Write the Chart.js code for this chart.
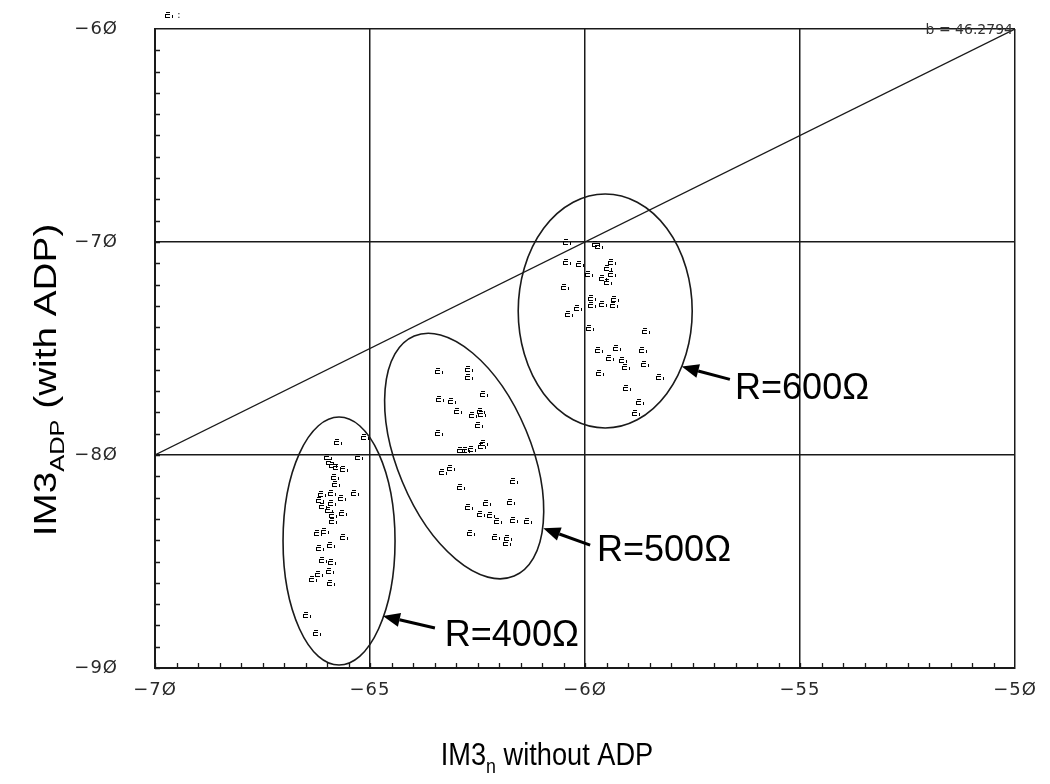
<!DOCTYPE html>
<html>
<head>
<meta charset="utf-8">
<script src="https://cdn.jsdelivr.net/npm/chart.js@4.4.1/dist/chart.umd.min.js"></script>
<style>
  html, body { margin: 0; padding: 0; background: #fff; }
  #wrap { width: 1050px; height: 784px; position: relative; }
</style>
</head>
<body>
<div id="wrap"><canvas id="c" width="1050" height="784"></canvas></div>
<script>
// IM3 without ADP (x) versus IM3 with ADP (y), in dB, per load resistance
const r400X = [-65.74, -65.12, -65.97, -65.25, -65.93, -65.85, -65.77, -65.60, -65.81, -65.79,
               -66.12, -65.89, -65.66, -65.35, -66.16, -66.09, -65.89, -65.95, -65.87, -65.62,
               -65.85, -66.20, -66.05, -65.60, -66.16, -65.91, -66.09, -65.89, -65.93, -66.33,
               -66.18, -65.91, -66.47, -66.24];
const r400Y = [-79.38, -79.14, -80.08, -80.08, -80.31, -80.47, -80.55, -80.67, -81.05, -81.36,
               -81.83, -81.77, -82.03, -81.80, -82.11, -82.39, -82.27, -82.58, -82.82, -82.74,
               -83.08, -83.68, -83.55, -83.86, -84.38, -84.23, -84.93, -85.01, -85.43, -85.84,
               -85.59, -86.00, -87.51, -88.37];

const r500X = [-63.40, -62.70, -62.70, -62.34, -63.37, -63.10, -62.95, -62.60, -62.42, -62.39,
               -62.47, -63.40, -62.88, -62.77, -62.63, -62.40, -62.35, -63.30, -63.12, -62.88,
               -61.64, -62.70, -62.29, -61.72, -62.42, -62.19, -62.02, -61.64, -61.32, -62.65,
               -62.08, -61.78, -61.82];
const r500Y = [-76.04, -75.98, -76.35, -77.14, -77.37, -77.45, -77.92, -78.12, -77.92, -78.09,
               -78.59, -78.98, -79.77, -79.77, -79.73, -79.58, -79.44, -80.78, -80.62, -81.49,
               -81.22, -82.46, -82.24, -82.19, -82.77, -82.82, -83.08, -83.05, -83.10, -83.68,
               -83.84, -83.91, -84.15];

const r600X = [-60.41, -59.74, -59.67, -60.41, -60.12, -59.91, -59.38, -59.46, -59.38, -59.57,
               -59.47, -60.47, -59.84, -59.84, -59.59, -59.30, -59.33, -60.17, -60.37, -59.88,
               -58.58, -59.67, -59.26, -59.42, -59.11, -59.05, -58.64, -58.60, -59.65, -58.26,
               -59.02, -58.72, -58.81];
const r600Y = [-69.99, -70.09, -70.19, -70.92, -71.03, -71.49, -70.95, -71.21, -71.52, -71.68,
               -71.89, -72.10, -72.64, -72.96, -72.92, -72.69, -72.96, -73.08, -73.39, -74.05,
               -74.18, -75.08, -74.96, -75.43, -75.54, -75.85, -75.08, -75.74, -76.16, -76.32,
               -76.87, -77.53, -78.04];

// reference line y = x - 10
const fitX = [-70, -50];
const fitY = [-80, -60];
const fitLabel = 'b = 46.2794';

const xTickValues = [-70, -65, -60, -55, -50];
const yTickValues = [-90, -80, -70, -60];
const groupLabels = ['R=400\u03A9', 'R=500\u03A9', 'R=600\u03A9'];

// group outlines (centre in data units, radii in px, rotation in degrees)
const outlines = [
  { cx: -65.72, cy: -84.04, rx: 56, ry: 124, rot: 0 },
  { cx: -62.81, cy: -80.05, rx: 67, ry: 130, rot: -22.6 },
  { cx: -59.53, cy: -73.24, rx: 87, ry: 117, rot: 0 }
];
// callouts: arrow tip, arrow tail, label anchor (left, baseline) in data units
const callouts = [
  { tip: [-64.70, -87.56], tail: [-63.49, -88.12], at: [-63.26, -88.97] },
  { tip: [-60.97, -83.44], tail: [-59.88, -84.23], at: [-59.72, -84.98] },
  { tip: [-57.75, -75.85], tail: [-56.63, -76.45], at: [-56.51, -77.38] }
];

const INK = '#1a1a1a';

function toPts(xs, ys) { return xs.map((x, i) => ({ x: x, y: ys[i] })); }

// small plotter-style symbol used for every sample
function makeMarker() {
  const c = document.createElement('canvas');
  c.width = 8; c.height = 6;
  const g = c.getContext('2d');
  g.fillStyle = '#000';
  g.fillRect(1, 0, 4, 1);
  g.fillRect(0, 2, 5, 1);
  g.fillRect(0, 2, 1, 4);
  g.fillRect(0, 5, 5, 1);
  g.fillRect(7, 3, 1, 3);
  return c;
}
const marker = makeMarker();

function fmtTick(v) {
  return (v < 0 ? '\u2212' : '') + String(Math.abs(v)).replace(/0/g, '\u00D8');
}

// draws a run of text with subscripted parts; sx stretches along the writing direction
function drawSubText(ctx, parts, x, y, size, sx) {
  const subSize = Math.round(size * 0.66);
  let w = 0;
  parts.forEach(p => {
    ctx.font = (p.sub ? subSize : size) + 'px "Liberation Sans", Arial, sans-serif';
    p.w = ctx.measureText(p.t).width;
    w += p.w;
  });
  ctx.save();
  ctx.translate(x, y);
  ctx.scale(sx, 1);
  let cx = -w / 2;
  ctx.textAlign = 'left';
  ctx.textBaseline = 'alphabetic';
  parts.forEach(p => {
    ctx.font = (p.sub ? subSize : size) + 'px "Liberation Sans", Arial, sans-serif';
    ctx.fillText(p.t, cx, p.sub ? size * 0.26 : 0);
    cx += p.w;
  });
  ctx.restore();
}

const tickSpacing = {
  id: 'tickSpacing',
  beforeDraw(chart) { chart.ctx.letterSpacing = '1px'; },
  beforeDatasetsDraw(chart) { chart.ctx.letterSpacing = '0px'; }
};

const decorations = {
  id: 'decorations',
  beforeDatasetsDraw(chart) {
    const { ctx, chartArea: a, scales: { x, y } } = chart;
    ctx.save();
    ctx.strokeStyle = INK;
    ctx.lineWidth = 1.3;
    // minor ticks along bottom axis (every 0.5)
    ctx.beginPath();
    for (let v = -70; v <= -50.001; v += 0.5) {
      const px = Math.round(x.getPixelForValue(v)) + 0.5;
      ctx.moveTo(px, a.bottom);
      ctx.lineTo(px, a.bottom - 5);
    }
    // minor ticks along left axis (every 1)
    for (let v = -90; v <= -60.001; v += 1) {
      const py = Math.round(y.getPixelForValue(v)) + 0.5;
      ctx.moveTo(a.left, py);
      ctx.lineTo(a.left + 5, py);
    }
    ctx.stroke();
    ctx.restore();
    ctx.imageSmoothingEnabled = false;
  },
  afterDatasetsDraw(chart) {
    const { ctx, chartArea: a, scales: { x, y } } = chart;
    ctx.save();
    ctx.letterSpacing = '0px';
    // outlines around each group
    ctx.strokeStyle = INK;
    ctx.lineWidth = 1.6;
    outlines.forEach(o => {
      ctx.beginPath();
      ctx.ellipse(x.getPixelForValue(o.cx), y.getPixelForValue(o.cy), o.rx, o.ry,
                  o.rot * Math.PI / 180, 0, Math.PI * 2);
      ctx.stroke();
    });
    // callout arrows and labels
    ctx.fillStyle = '#000';
    ctx.strokeStyle = '#000';
    callouts.forEach((c, i) => {
      const tx = x.getPixelForValue(c.tip[0]), ty = y.getPixelForValue(c.tip[1]);
      const sx = x.getPixelForValue(c.tail[0]), sy = y.getPixelForValue(c.tail[1]);
      const ang = Math.atan2(ty - sy, tx - sx);
      const hl = 17, hw = 7;
      const bx = tx - hl * Math.cos(ang), by = ty - hl * Math.sin(ang);
      ctx.lineWidth = 3;
      ctx.beginPath();
      ctx.moveTo(sx, sy);
      ctx.lineTo(bx, by);
      ctx.stroke();
      ctx.beginPath();
      ctx.moveTo(tx, ty);
      ctx.lineTo(bx + hw * Math.sin(ang), by - hw * Math.cos(ang));
      ctx.lineTo(bx - hw * Math.sin(ang), by + hw * Math.cos(ang));
      ctx.closePath();
      ctx.fill();
      ctx.font = '36px "Liberation Sans", Arial, sans-serif';
      ctx.textAlign = 'left';
      ctx.textBaseline = 'alphabetic';
      ctx.fillText(groupLabels[i], x.getPixelForValue(c.at[0]), y.getPixelForValue(c.at[1]));
    });
    // fit coefficient, top right
    ctx.fillStyle = '#333';
    ctx.font = '14px "DejaVu Sans", sans-serif';
    ctx.textAlign = 'right';
    ctx.textBaseline = 'alphabetic';
    ctx.fillText(fitLabel, a.right - 2, a.top + 5);
    // series key, top left
    ctx.imageSmoothingEnabled = false;
    ctx.drawImage(marker, a.left + 10, a.top - 17);
    ctx.font = '11px "DejaVu Sans", sans-serif';
    ctx.textAlign = 'left';
    ctx.fillText(':', a.left + 22, a.top - 11);
    // axis titles
    ctx.fillStyle = '#000';
    drawSubText(ctx, [{ t: 'IM3' }, { t: 'n', sub: true }, { t: ' without ADP' }],
                547, 765, 32, 0.85);
    ctx.translate(56, 380);
    ctx.rotate(-Math.PI / 2);
    drawSubText(ctx, [{ t: 'IM3' }, { t: 'ADP', sub: true }, { t: ' (with ADP)' }],
                0, 0, 32, 1.21);
    ctx.restore();
  }
};

new Chart(document.getElementById('c'), {
  type: 'scatter',
  data: {
    datasets: [
      { data: toPts(r400X, r400Y), pointStyle: marker, pointRadius: 3 },
      { data: toPts(r500X, r500Y), pointStyle: marker, pointRadius: 3 },
      { data: toPts(r600X, r600Y), pointStyle: marker, pointRadius: 3 },
      { data: toPts(fitX, fitY), showLine: true, pointRadius: 0,
        borderColor: INK, borderWidth: 1.3, fill: false }
    ]
  },
  options: {
    responsive: false,
    animation: false,
    devicePixelRatio: 1,
    layout: { padding: { left: 0, top: 29, right: 35, bottom: 0 } },
    plugins: { legend: { display: false }, tooltip: { enabled: false } },
    scales: {
      x: {
        type: 'linear', min: -70, max: -50,
        afterBuildTicks: s => { s.ticks = xTickValues.map(v => ({ value: v })); },
        afterFit: s => { s.height = 116; s.paddingLeft = 0; s.paddingRight = 0; },
        grid: { color: INK, lineWidth: 1.5, drawTicks: false },
        border: { color: INK, width: 2 },
        ticks: {
          padding: 12, color: '#2a2a2a', maxRotation: 0,
          font: { family: '"DejaVu Sans", sans-serif', size: 18 },
          callback: v => fmtTick(v)
        }
      },
      y: {
        type: 'linear', min: -90, max: -60,
        afterBuildTicks: s => { s.ticks = yTickValues.map(v => ({ value: v })); },
        afterFit: s => { s.width = 155; s.paddingTop = 0; s.paddingBottom = 0; },
        grid: { color: INK, lineWidth: 1.5, drawTicks: false },
        border: { color: INK, width: 2 },
        ticks: {
          padding: 37, color: '#2a2a2a',
          font: { family: '"DejaVu Sans", sans-serif', size: 18 },
          callback: v => fmtTick(v)
        }
      }
    }
  },
  plugins: [tickSpacing, decorations]
});
</script>
</body>
</html>
